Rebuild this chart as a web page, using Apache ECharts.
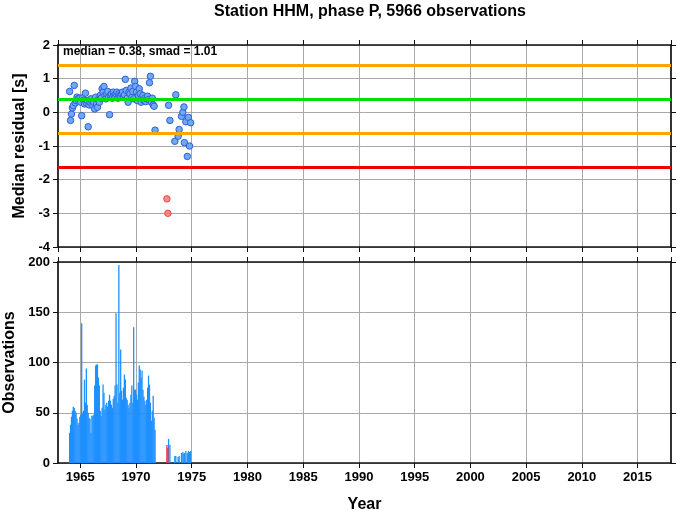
<!DOCTYPE html>
<html>
<head>
<meta charset="utf-8">
<script src="https://cdn.jsdelivr.net/npm/echarts@6/dist/echarts.min.js"></script>
<style>html,body{margin:0;padding:0;background:#fff;}#c{width:677px;height:511px;}</style>
</head>
<body>
<div id="c"></div>
<script>
// ---- Data ----
const titleText = 'Station HHM, phase P, 5966 observations';
const median = 0.38;
const smad = 1.01;
const firstMonth = [1964, 1]; // monthly bins start
// monthly observation counts (1964-01 .. 1971-09)
const monthlyCounts = [30,38,46,52,56,55,52,50,44,38,40,46,48,139,50,52,83,60,94,58,50,45,44,30,47,47,48,77,97,98,98,85,77,52,47,55,78,70,53,58,60,56,62,68,62,58,55,64,67,77,149,78,60,197,70,113,72,63,75,88,83,65,63,58,55,60,68,77,60,135,73,73,68,63,80,97,93,85,92,73,66,62,58,63,75,87,78,60,42,52,67,45,33];
// monthly median residuals (s)
const monthlyResid = [0.62,-0.24,-0.05,0.13,0.2,0.80,0.28,0.35,0.45,0.4,0.33,0.42,0.3,-0.1,0.43,0.36,0.25,0.57,0.28,0.35,-0.43,0.22,0.3,0.4,0.33,0.2,0.3,0.1,0.45,0.25,0.15,0.38,0.3,0.5,0.42,0.7,0.6,0.77,0.5,0.4,0.55,0.62,0.45,-0.07,0.5,0.55,0.42,0.6,0.5,0.45,0.55,0.6,0.42,0.55,0.5,0.48,0.55,0.6,0.45,0.52,0.98,0.65,0.42,0.3,0.6,0.55,0.72,0.45,0.62,0.4,0.92,0.77,0.6,0.35,0.5,0.7,0.55,0.3,0.45,0.5,0.35,0.42,0.32,0.4,0.48,0.38,0.88,1.07,0.3,0.42,0.22,0.18,-0.53];
// later sparse bins
const lateYears = [1972.92,1973.04,1973.48,1973.57,1973.78,1973.87,1974.08,1974.2,1974.3,1974.34,1974.47,1974.6,1974.7,1974.8,1974.9];
const lateResid = [0.21,-0.24,-0.86,0.52,-0.71,-0.51,-0.12,0.0,0.16,-0.9,-0.28,-1.31,-0.15,-1.0,-0.31];
const lateCounts = [24,18,7,7,6,7,10,11,9,10,12,10,12,11,12];
// outlier bins (red)
const redYears = [1972.77,1972.86];
const redResid = [-2.57,-3.0];
const redCounts = [18,15];
// axes
const xMin = 1963, xMax = 2018;
const resMin = -4, resMax = 2, resStep = 1;
const obsMin = 0, obsMax = 200, obsStep = 50;

// ---- Build ----
const monthYears = monthlyCounts.map((_, i) => firstMonth[0] + (firstMonth[1] - 1 + i + 0.5) / 12);
const bluePts = monthYears.map((y, i) => [y, monthlyResid[i]])
  .concat(lateYears.map((y, i) => [y, lateResid[i]]));
const redPts = redYears.map((y, i) => [y, redResid[i]]);
const BLUE = '#1E90FF', RED = '#F03030';
const barData = monthYears.map((y, i) => ({ value: [y, monthlyCounts[i]], itemStyle: { color: BLUE } }))
  .concat(lateYears.map((y, i) => ({ value: [y, lateCounts[i]], itemStyle: { color: BLUE } })))
  .concat(redYears.map((y, i) => ({ value: [y, redCounts[i]], itemStyle: { color: RED } })));

const FONT = 'Liberation Sans, Arial, Helvetica, sans-serif';
const axisLineX = { show: true, onZero: false, lineStyle: { color: '#111', width: 1.5 } };
const axisLineY = { show: true, onZero: false, lineStyle: { color: '#333', width: 2 } };
const tick = { show: true, inside: false, length: 5, lineStyle: { color: '#111', width: 1 } };
const split = { show: true, lineStyle: { color: '#a8a8a8', width: 1 } };
const lbl = { fontFamily: FONT, fontSize: 13, fontWeight: 'bold', color: '#000' };
const nameStyle = { fontFamily: FONT, fontSize: 16, fontWeight: 'bold', color: '#000' };

function xAx(grid, pos, opts) {
  return Object.assign({
    type: 'value', gridIndex: grid, position: pos, min: xMin, max: xMax, splitNumber: 11,
    axisLine: axisLineX, axisTick: tick, splitLine: { show: false },
    axisLabel: { show: false }
  }, opts || {});
}
function yAx(grid, pos, mn, mx, st, opts) {
  return Object.assign({
    type: 'value', gridIndex: grid, position: pos, min: mn, max: mx, interval: st,
    axisLine: axisLineY, axisTick: tick, splitLine: { show: false },
    axisLabel: { show: false }
  }, opts || {});
}

const chart = echarts.init(document.getElementById('c'), null, { renderer: 'canvas' });
chart.setOption({
  animation: false,
  backgroundColor: '#fff',
  title: {
    text: titleText, left: 365, top: -1, textAlign: 'center',
    textStyle: { fontFamily: FONT, fontSize: 16, fontWeight: 'bold', color: '#000' }
  },
  grid: [
    { left: 58, right: 6, top: 45, height: 202, outerBoundsMode: 'none', containLabel: false },
    { left: 58, right: 6, top: 262, height: 201, outerBoundsMode: 'none', containLabel: false }
  ],
  xAxis: [
    xAx(0, 'bottom', { splitLine: split }),
    xAx(0, 'top'),
    xAx(1, 'bottom', {
      splitLine: split,
      axisLabel: Object.assign({ show: true, margin: 8, showMinLabel: false, showMaxLabel: false,
        formatter: v => String(Math.round(v)) }, lbl),
      name: 'Year', nameLocation: 'middle', nameGap: 34, nameTextStyle: nameStyle
    }),
    xAx(1, 'top')
  ],
  yAxis: [
    yAx(0, 'left', resMin, resMax, resStep, {
      splitLine: split,
      axisLabel: Object.assign({ show: true, margin: 8 }, lbl),
      name: 'Median residual [s]', nameLocation: 'middle', nameGap: 29, nameTextStyle: nameStyle
    }),
    yAx(0, 'right', resMin, resMax, resStep),
    yAx(1, 'left', obsMin, obsMax, obsStep, {
      splitLine: split,
      axisLabel: Object.assign({ show: true, margin: 8 }, lbl),
      name: 'Observations', nameLocation: 'middle', nameGap: 40, nameTextStyle: nameStyle
    }),
    yAx(1, 'right', obsMin, obsMax, obsStep)
  ],
  graphic: [{
    type: 'text', left: 63, top: 46,
    style: { text: 'median = ' + median.toFixed(2) + ', smad = ' + smad.toFixed(2), font: 'bold 12px ' + FONT, fill: '#000' },
    z: 10
  }],
  series: [
    {
      type: 'scatter', xAxisIndex: 0, yAxisIndex: 0, data: redPts, z: 2,
      symbolSize: 6.5,
      itemStyle: { color: '#FF6A6A', borderColor: '#F03030', borderWidth: 1 },
      markLine: {
        silent: true, symbol: ['none', 'none'], label: { show: false },
        data: [
          { yAxis: median + smad, lineStyle: { color: '#FFA500', width: 3, type: 'solid' } },
          { yAxis: median, lineStyle: { color: '#00E000', width: 3, type: 'solid' } },
          { yAxis: median - smad, lineStyle: { color: '#FFA500', width: 3, type: 'solid' } },
          { yAxis: median - 2 * smad, lineStyle: { color: '#F00000', width: 3, type: 'solid' } }
        ]
      }
    },
    {
      type: 'scatter', xAxisIndex: 0, yAxisIndex: 0, data: bluePts, z: 3,
      symbolSize: 6.5,
      itemStyle: { color: '#6FA8F5', borderColor: '#2F5FD8', borderWidth: 1, opacity: 1 }
    },
    {
      type: 'bar', xAxisIndex: 2, yAxisIndex: 2, data: barData, barWidth: 1.3, z: 2
    }
  ]
});
</script>
</body>
</html>
